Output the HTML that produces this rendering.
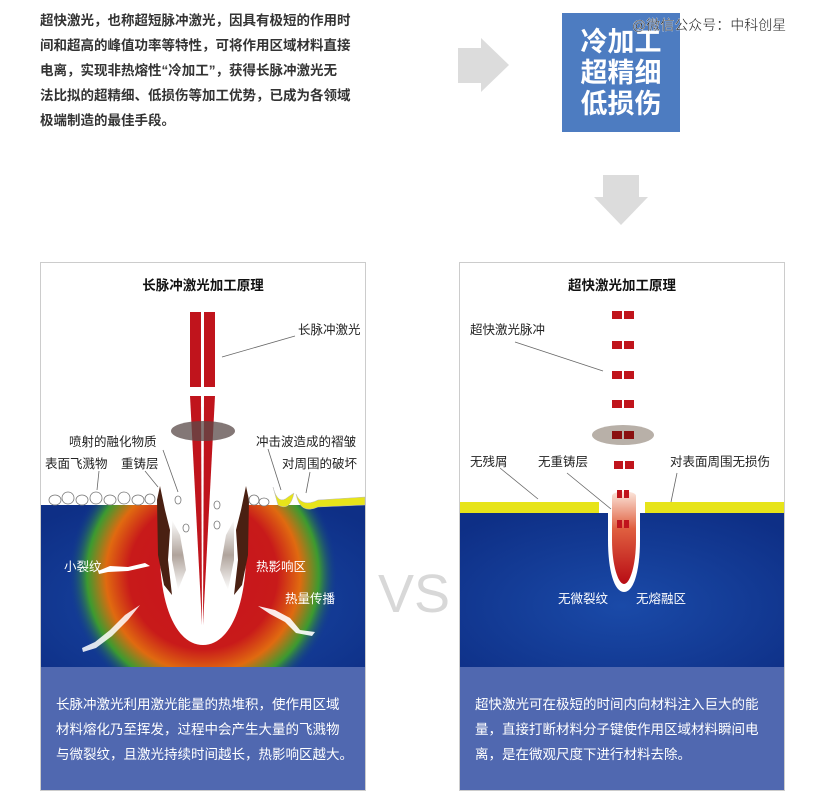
<!DOCTYPE html>
<html><head><meta charset="utf-8"><style>
html,body{margin:0;padding:0;background:#fff;}
svg{display:block;font-family:"Liberation Sans","Noto Sans CJK SC",sans-serif;}
</style></head><body>
<svg width="825" height="804" viewBox="0 0 825 804" xmlns="http://www.w3.org/2000/svg">
<defs>
<radialGradient id="heat" cx="203" cy="575" r="135" gradientUnits="userSpaceOnUse">
<stop offset="0" stop-color="#c8141e"/><stop offset="0.55" stop-color="#c81a1a"/><stop offset="0.72" stop-color="#e06a10"/><stop offset="0.86" stop-color="#3c9a30"/><stop offset="1" stop-color="#0f3590" stop-opacity="0"/>
</radialGradient>
<linearGradient id="groove" x1="0" y1="0" x2="0" y2="1"><stop offset="0" stop-color="#fbe6dc"/><stop offset="0.4" stop-color="#e06040"/><stop offset="1" stop-color="#b80c14"/></linearGradient>
<radialGradient id="blue" cx="0.5" cy="0.6" r="0.7"><stop offset="0" stop-color="#1a4aa8"/><stop offset="1" stop-color="#0e2f86"/></radialGradient>
<linearGradient id="wall" x1="0" y1="0" x2="0" y2="1"><stop offset="0" stop-color="#fff"/><stop offset="0.5" stop-color="#b0a49c"/><stop offset="1" stop-color="#fff"/></linearGradient>
</defs>
<g font-size="13.5" font-weight="bold" fill="#333">
<text x="40" y="25">超快激光，也称超短脉冲激光，因具有极短的作用时</text>
<text x="40" y="50">间和超高的峰值功率等特性，可将作用区域材料直接</text>
<text x="40" y="75">电离，实现非热熔性“冷加工”，获得长脉冲激光无</text>
<text x="40" y="100">法比拟的超精细、低损伤等加工优势，已成为各领域</text>
<text x="40" y="125">极端制造的最佳手段。</text>
</g>
<polygon points="458,48 481,48 481,38 509,65 481,92 481,83 458,83" fill="#dcdcdc"/>
<rect x="562" y="13" width="118" height="119" fill="#4d7cc1"/>
<g font-size="27" font-weight="bold" fill="#fff" text-anchor="middle">
<text x="621" y="51">冷加工</text><text x="621" y="82">超精细</text><text x="621" y="113">低损伤</text>
</g>
<text x="632" y="30" font-size="14" fill="#222" stroke="#fff" stroke-width="0.3">@微信公众号：中科创星</text>
<polygon points="603,175 639,175 639,197 648,197 621,225 594,197 603,197" fill="#dcdcdc"/>
<text x="414" y="612" font-size="54" fill="#d8d8d8" text-anchor="middle">VS</text>

<!-- LEFT PANEL -->
<rect x="40.5" y="262.5" width="325" height="528" fill="#fff" stroke="#ccc"/>
<rect x="41" y="505" width="324" height="163" fill="url(#blue)"/>
<rect x="41" y="505" width="324" height="163" fill="url(#heat)"/>
<rect x="41" y="667" width="324" height="123" fill="#5068b0"/>
<text x="203" y="290" font-size="13.5" font-weight="bold" text-anchor="middle" fill="#111">长脉冲激光加工原理</text>
<path d="M160,505 L160,560 C162,615 180,645 203,645 C226,645 244,615 246,560 L246,505 Z" fill="#fff"/>
<path d="M172,520 L180,535 L186,570 L178,590 L172,560 Z" fill="url(#wall)"/>
<path d="M234,520 L226,535 L220,570 L228,590 L234,560 Z" fill="url(#wall)"/>
<path d="M157,500 L160,486 L165,510 L170,530 L168,560 L172,595 L164,585 L158,555 Z" fill="#4a2012"/>
<path d="M249,500 L246,486 L241,510 L236,530 L238,560 L234,595 L242,585 L248,555 Z" fill="#4a2012"/>
<g fill="#fff" stroke="#777" stroke-width="0.8">
<ellipse cx="55" cy="500" rx="6" ry="5"/><ellipse cx="68" cy="498" rx="6" ry="6"/><ellipse cx="82" cy="500" rx="6" ry="5"/><ellipse cx="96" cy="498" rx="6" ry="6"/><ellipse cx="110" cy="500" rx="6" ry="5"/><ellipse cx="124" cy="498" rx="6" ry="6"/><ellipse cx="138" cy="500" rx="6" ry="5"/><ellipse cx="150" cy="499" rx="5" ry="5"/>
<ellipse cx="254" cy="500" rx="5" ry="5"/><ellipse cx="264" cy="502" rx="5" ry="4"/>
<ellipse cx="178" cy="500" rx="3" ry="4"/><ellipse cx="186" cy="528" rx="3" ry="4"/><ellipse cx="217" cy="505" rx="3" ry="4"/><ellipse cx="217" cy="525" rx="3" ry="4"/>
</g>
<path d="M273,487 Q278,506 288,497 L294,493 Q290,512 278,505 Z" fill="#e7e41a" stroke="#bbb" stroke-width="0.5"/>
<path d="M296,494 Q302,508 318,500 L365,497 L365,505 L318,507 Q300,515 296,494 Z" fill="#e7e41a" stroke="#bbb" stroke-width="0.5"/>
<rect x="190" y="312" width="11" height="75" fill="#c0141c"/><rect x="204" y="312" width="11" height="75" fill="#c0141c"/>
<polygon points="190,396 201,396 202,625" fill="#c0141c"/><polygon points="204,396 215,396 203,625" fill="#c0141c"/>
<ellipse cx="203" cy="431" rx="32" ry="10" fill="#5a4a48" opacity="0.75"/>
<g fill="#fff">
<path d="M98,571 L110,566 L128,567 L145,563 L150,566 L128,571 L108,572 L99,574 Z"/>
<path d="M82,648 L95,642 L110,630 L125,615 L140,605 L128,620 L112,636 L96,648 L83,652 Z" opacity="0.85"/>
<path d="M258,606 L275,610 L290,618 L300,630 L315,632 L312,636 L296,633 L285,622 L270,614 Z" opacity="0.9"/>
</g>
<g stroke="#666" stroke-width="0.8" fill="none">
<line x1="222" y1="357" x2="295" y2="336"/>
<line x1="99" y1="471" x2="97" y2="490"/><line x1="145" y1="471" x2="158" y2="487"/>
<line x1="163" y1="450" x2="178" y2="492"/><line x1="268" y1="449" x2="281" y2="490"/><line x1="310" y1="472" x2="306" y2="493"/>
</g>
<g font-size="12.5" fill="#222">
<text x="298" y="334">长脉冲激光</text>
<text x="69" y="446">喷射的融化物质</text><text x="256" y="446">冲击波造成的褶皱</text>
<text x="45" y="468">表面飞溅物</text><text x="121" y="468">重铸层</text><text x="282" y="468">对周围的破坏</text>
</g>
<g font-size="12.5" fill="#fff">
<text x="64" y="571">小裂纹</text><text x="256" y="571">热影响区</text><text x="285" y="603">热量传播</text>
</g>
<g font-size="13.5" fill="#fff">
<text x="56" y="709">长脉冲激光利用激光能量的热堆积，使作用区域</text>
<text x="56" y="734">材料熔化乃至挥发，过程中会产生大量的飞溅物</text>
<text x="56" y="759">与微裂纹，且激光持续时间越长，热影响区越大。</text>
</g>

<!-- RIGHT PANEL -->
<rect x="459.5" y="262.5" width="325" height="528" fill="#fff" stroke="#ccc"/>
<rect x="460" y="513" width="324" height="155" fill="url(#blue)"/>
<rect x="460" y="667" width="324" height="123" fill="#5068b0"/>
<rect x="460" y="502" width="139" height="11" fill="#e7e41a"/>
<rect x="645" y="502" width="139" height="11" fill="#e7e41a"/>
<text x="622" y="290" font-size="13.5" font-weight="bold" text-anchor="middle" fill="#111">超快激光加工原理</text>
<path d="M608,513 L608,540 C608,570 614,592 624,592 C634,592 640,570 640,540 L640,513 Z" fill="#fff"/>
<path d="M612,496 C612,490 636,490 636,496 L636,540 C636,565 630,584 624,584 C618,584 612,565 612,540 Z" fill="url(#groove)"/>
<ellipse cx="623" cy="435" rx="31" ry="10" fill="#b8b0a8"/>
<g fill="#c0141c">
<rect x="612" y="311" width="10" height="8"/><rect x="624" y="311" width="10" height="8"/>
<rect x="612" y="341" width="10" height="8"/><rect x="624" y="341" width="10" height="8"/>
<rect x="612" y="371" width="10" height="8"/><rect x="624" y="371" width="10" height="8"/>
<rect x="612" y="400" width="10" height="8"/><rect x="624" y="400" width="10" height="8"/>
<rect x="612" y="431" width="10" height="8" fill="#8a1010"/><rect x="624" y="431" width="10" height="8" fill="#8a1010"/>
<rect x="614" y="461" width="9" height="8"/><rect x="625" y="461" width="9" height="8"/>
<rect x="617" y="490" width="5" height="8"/><rect x="624" y="490" width="5" height="8"/>
<rect x="617" y="520" width="5" height="8"/><rect x="624" y="520" width="5" height="8"/>
</g>
<g stroke="#666" stroke-width="0.8" fill="none">
<line x1="515" y1="342" x2="603" y2="371"/><line x1="500" y1="468" x2="538" y2="499"/>
<line x1="567" y1="473" x2="611" y2="509"/><line x1="677" y1="473" x2="671" y2="502"/>
</g>
<g font-size="12.5" fill="#222">
<text x="470" y="334">超快激光脉冲</text><text x="470" y="466">无残屑</text><text x="538" y="466">无重铸层</text><text x="670" y="466">对表面周围无损伤</text>
</g>
<g font-size="12.5" fill="#fff"><text x="558" y="603">无微裂纹</text><text x="636" y="603">无熔融区</text></g>
<g font-size="13.5" fill="#fff">
<text x="475" y="709">超快激光可在极短的时间内向材料注入巨大的能</text>
<text x="475" y="734">量，直接打断材料分子键使作用区域材料瞬间电</text>
<text x="475" y="759">离，是在微观尺度下进行材料去除。</text>
</g>
</svg>
</body></html>
